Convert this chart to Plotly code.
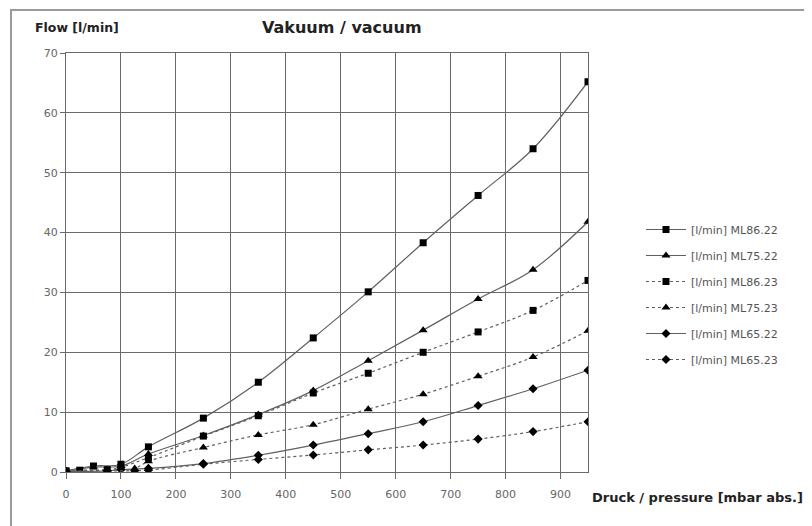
import plotly.graph_objects as go

# ---- data ----
series_names = ["[l/min] ML86.22", "[l/min] ML75.22", "[l/min] ML86.23",
                "[l/min] ML75.23", "[l/min] ML65.22", "[l/min] ML65.23"]

x_ml86_22 = [0, 50, 100, 150, 250, 350, 450, 550, 650, 750, 850, 950]
y_ml86_22 = [0.2, 1.0, 1.3, 4.2, 9.0, 15.0, 22.4, 30.1, 38.3, 46.2, 54.0, 65.2]

x_ml75_22 = [0, 50, 100, 150, 250, 350, 450, 550, 650, 750, 850, 950]
y_ml75_22 = [0.1, 0.8, 1.0, 3.0, 6.1, 9.6, 13.6, 18.6, 23.7, 28.9, 33.8, 41.8]

x_ml86_23 = [0, 25, 75, 100, 150, 250, 350, 450, 550, 650, 750, 850, 950]
y_ml86_23 = [0.1, 0.3, 0.4, 0.8, 2.4, 6.0, 9.4, 13.2, 16.5, 20.0, 23.4, 27.0, 32.0]

x_ml75_23 = [0, 25, 75, 125, 150, 250, 350, 450, 550, 650, 750, 850, 950]
y_ml75_23 = [0.1, 0.2, 0.3, 0.6, 1.8, 4.1, 6.2, 7.9, 10.5, 13.0, 16.0, 19.2, 23.6]

x_ml65_22 = [0, 75, 100, 150, 250, 350, 450, 550, 650, 750, 850, 950]
y_ml65_22 = [0.1, 0.2, 0.4, 0.6, 1.4, 2.8, 4.5, 6.4, 8.4, 11.1, 13.9, 17.0]

x_ml65_23 = [0, 75, 125, 150, 250, 350, 450, 550, 650, 750, 850, 950]
y_ml65_23 = [0.1, 0.2, 0.2, 0.3, 1.3, 2.1, 2.85, 3.7, 4.5, 5.5, 6.75, 8.4]

x_ticks = [0, 100, 200, 300, 400, 500, 600, 700, 800, 900]
y_ticks = [0, 10, 20, 30, 40, 50, 60, 70]

xs = [x_ml86_22, x_ml75_22, x_ml86_23, x_ml75_23, x_ml65_22, x_ml65_23]
ys = [y_ml86_22, y_ml75_22, y_ml86_23, y_ml75_23, y_ml65_22, y_ml65_23]
symbols = ["square", "triangle-up", "square", "triangle-up", "diamond", "diamond"]
dashes = ["solid", "solid", "dot", "dot", "solid", "dot"]
sizes = [7, 8, 7, 8, 7, 7]

FONT = "DejaVu Sans"

fig = go.Figure()
for i, name in enumerate(series_names):
    fig.add_trace(go.Scatter(
        x=xs[i], y=ys[i], name=name, mode="lines+markers",
        line=dict(color="#606060", width=1.2, dash=dashes[i], shape="spline", smoothing=1),
        marker=dict(symbol=symbols[i], size=sizes[i], color="black", line=dict(width=0)),
        legendgroup=f"g{i}",
    ))

# the page puts the figure 8 px in from the top-left corner
OFF = 8
W, H = 812 - OFF, 526 - OFF
L, T = 66 - OFF, 53 - OFF
R_px, B_px = 588 - OFF, 472 - OFF
pw, ph = R_px - L, B_px - T


def px2paper(px, py):
    """reference-picture pixel -> paper coords"""
    return (px - OFF - L) / pw, (B_px - (py - OFF)) / ph


fig.update_layout(
    width=W, height=H,
    margin=dict(l=L, r=W - R_px, t=T, b=H - B_px, pad=0),
    paper_bgcolor="white", plot_bgcolor="white",
    font=dict(family=FONT, size=11, color="#555555"),
    showlegend=True,
    legend=dict(
        x=px2paper(641, 0)[0], y=px2paper(0, 215)[1], xanchor="left", yanchor="top",
        font=dict(family=FONT, size=11, color="#555555"),
        itemwidth=40, tracegroupgap=7, bgcolor="rgba(0,0,0,0)",
    ),
)

fig.update_xaxes(
    range=[0, 950], tickvals=x_ticks, ticktext=[str(v) for v in x_ticks],
    showgrid=True, gridcolor="#6a6a6a", gridwidth=1.2,
    showline=True, linecolor="#6a6a6a", linewidth=1.2, mirror=True,
    ticks="outside", ticklen=6, tickcolor="#6a6a6a", ticklabelstandoff=6,
    tickfont=dict(family=FONT, size=11, color="#666666"), zeroline=False,
)
fig.update_yaxes(
    range=[0, 70], tickvals=y_ticks, ticktext=[str(v) for v in y_ticks],
    showgrid=True, gridcolor="#6a6a6a", gridwidth=1.2,
    showline=True, linecolor="#6a6a6a", linewidth=1.2, mirror=True,
    ticks="outside", ticklen=5, tickcolor="#6a6a6a",
    tickfont=dict(family=FONT, size=11, color="#666666"), zeroline=False,
)

# outer frame (top/left visible, right/bottom beyond the picture)
fx0, fy0 = px2paper(11, 10)
fx1, fy1 = px2paper(840, 560)
fig.add_shape(type="rect", xref="paper", yref="paper", x0=fx0, y0=fy1, x1=fx1, y1=fy0,
              line=dict(color="#9a9a9a", width=2), layer="below")

tx, ty = px2paper(342, 28)
fig.add_annotation(text="<b>Vakuum / vacuum</b>", xref="paper", yref="paper", x=tx, y=ty,
                   xanchor="center", yanchor="middle", showarrow=False,
                   font=dict(family=FONT, size=16, color="#222222"))
ax, ay = px2paper(33, 28)
fig.add_annotation(text="<b>Flow [l/min]</b>", xref="paper", yref="paper", x=ax, y=ay,
                   xanchor="left", yanchor="middle", showarrow=False,
                   font=dict(family=FONT, size=12.5, color="#222222"))
bx, by = px2paper(590, 497)
fig.add_annotation(text="<b>Druck / pressure [mbar abs.]</b>", xref="paper", yref="paper", x=bx, y=by,
                   xanchor="left", yanchor="middle", showarrow=False,
                   font=dict(family=FONT, size=13, color="#222222"))

fig.write_html("out.html")
